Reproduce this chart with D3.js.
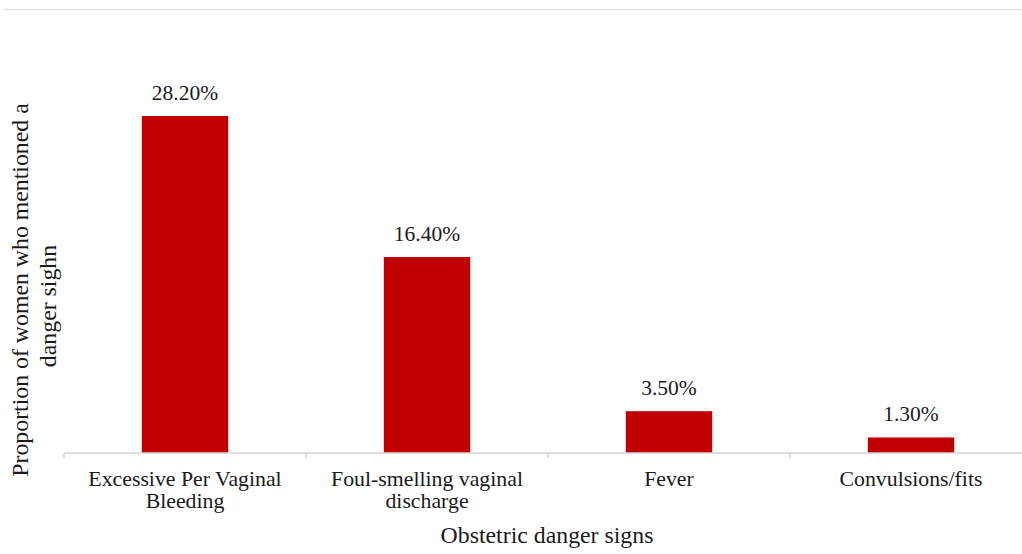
<!DOCTYPE html>
<html>
<head>
<meta charset="utf-8">
<script src="https://cdn.jsdelivr.net/npm/d3@7"></script>
<style>
  body { margin: 0; background: #fff; }
  text { font-family: "Liberation Serif", "Times New Roman", serif; fill: #1a1a1a; }
</style>
</head>
<body>
<div id="container"></div>
<script>
/* DATA */
const categories = ["Excessive Per Vaginal Bleeding", "Foul-smelling vaginal discharge", "Fever", "Convulsions/fits"];
const categoryLines = [["Excessive Per Vaginal", "Bleeding"], ["Foul-smelling vaginal", "discharge"], ["Fever"], ["Convulsions/fits"]];
const values = [28.2, 16.4, 3.5, 1.3];
const valueLabels = ["28.20%", "16.40%", "3.50%", "1.30%"];

/* CONSTANTS */
const width = 1022, height = 554;
const baseY = 453;

const svg = d3.select("#container")
  .append("svg")
  .attr("width", width)
  .attr("height", height);

// faint top frame line
svg.append("line")
  .attr("x1", 3).attr("x2", width)
  .attr("y1", 9.5).attr("y2", 9.5)
  .attr("stroke", "#e3e3e3")
  .attr("stroke-width", 1.5);

/* SCALES */
const xScale = d3.scaleBand()
  .domain(categories)
  .range([64, 1032])
  .padding(0);

const yScale = d3.scaleLinear()
  .domain([0, 30])
  .range([baseY, baseY - 30 * 11.95]);

const barW = xScale.bandwidth() * 0.357;

/* BARS */
svg.selectAll(".bar")
  .data(categories)
  .join("rect")
  .attr("class", "bar")
  .attr("x", (d) => xScale(d) + xScale.bandwidth() / 2 - barW / 2)
  .attr("y", (d, i) => yScale(values[i]))
  .attr("width", barW)
  .attr("height", (d, i) => baseY - yScale(values[i]))
  .attr("fill", "#c00000");

// value labels
svg.selectAll(".val")
  .data(categories)
  .join("text")
  .attr("class", "val")
  .attr("x", (d) => xScale(d) + xScale.bandwidth() / 2)
  .attr("y", (d, i) => yScale(values[i]) - 16)
  .attr("text-anchor", "middle")
  .style("font-size", "21.5px")
  .text((d, i) => valueLabels[i]);

/* X AXIS */
const xAxis = svg.append("g")
  .attr("transform", `translate(0, ${baseY})`);

xAxis.append("line")
  .attr("x1", 64).attr("x2", width)
  .attr("stroke", "#d4d4d4")
  .attr("stroke-width", 1.5);

xAxis.selectAll(".tick-mark")
  .data(categories)
  .join("line")
  .attr("class", "tick-mark")
  .attr("x1", (d) => xScale(d)).attr("x2", (d) => xScale(d))
  .attr("y1", 0).attr("y2", 5)
  .attr("stroke", "#d4d4d4")
  .attr("stroke-width", 1.5);

const tickLabels = xAxis.selectAll(".tick-label")
  .data(categories)
  .join("text")
  .attr("class", "tick-label")
  .attr("text-anchor", "middle")
  .attr("y", 33)
  .style("font-size", "21.8px");

tickLabels.selectAll("tspan")
  .data((d, i) => categoryLines[i].map(l => ({ cat: d, line: l })))
  .join("tspan")
  .attr("x", (d) => xScale(d.cat) + xScale.bandwidth() / 2)
  .attr("dy", (d, j) => j === 0 ? 0 : 22)
  .text((d) => d.line);

// x title
svg.append("text")
  .attr("x", 547)
  .attr("y", 543)
  .attr("text-anchor", "middle")
  .style("font-size", "23.8px")
  .text("Obstetric danger signs");

// y title
const yTitle = svg.append("text")
  .attr("transform", "translate(28, 290) rotate(-90)")
  .attr("text-anchor", "middle")
  .style("font-size", "23.8px");

yTitle.append("tspan").attr("x", 0).attr("y", 0).text("Proportion of women who mentioned a");
yTitle.append("tspan").attr("x", -16).attr("y", 28).text("danger sighn");
</script>
</body>
</html>
